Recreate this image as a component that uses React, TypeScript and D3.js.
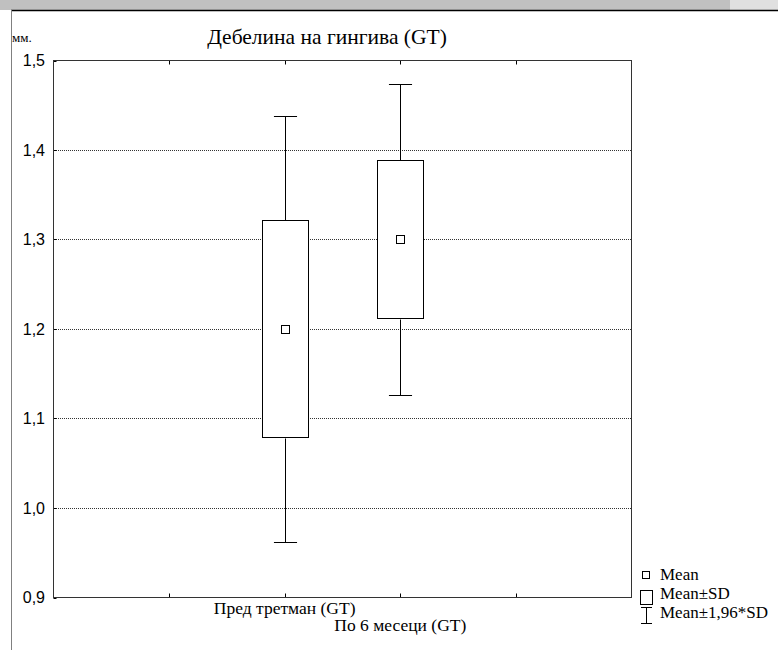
import React from "react";
import * as d3 from "d3";

const categories = ["Пред третман (GT)", "По 6 месеци (GT)"];
const catPositions = [2, 3];
const means = [1.2, 1.3];
const sds = [0.1215, 0.0885];
const sdMult = 1.96;
const yTicks = [0.9, 1.0, 1.1, 1.2, 1.3, 1.4, 1.5];
const xTicks = [1, 2, 3, 4];
const title = "Дебелина на гингива (GT)";
const yUnit = "мм.";
const legendItems = ["Mean", "Mean±SD", "Mean±1,96*SD"];

const W = 778;
const H = 650;
const serif = "'Liberation Serif', 'Times New Roman', serif";
const sans = "'Liberation Sans', Arial, sans-serif";

export default function App() {
  const left = 53.5;
  const right = 631.5;
  const top = 60.5;
  const bottom = 597.5;
  const y = d3.scaleLinear().domain([0.9, 1.5]).range([bottom, top]);
  const x = d3.scaleLinear().domain([0, 5]).range([left, right]);
  const unit = x(1) - x(0);
  const boxHalf = unit * 0.2;
  const capHalf = unit * 0.1;
  const fmt = (v: number) => d3.format(".1f")(v).replace(".", ",");
  const snap = (v: number) => Math.round(v) + 0.5;

  return (
    <div style={{ position: "absolute", left: 0, top: 0 }}>
      <svg width={W} height={H} style={{ display: "block", background: "#fff" }}>
        {/* top window band */}
        <rect x={0} y={0} width={730} height={10} fill="#c0c0c0" />
        <rect x={730} y={0} width={48} height={10} fill="#e0e0e0" />
        <line x1={11} x2={W} y1={10.5} y2={10.5} stroke="#000" strokeWidth={1.5} />
        <line x1={11.5} x2={11.5} y1={10} y2={H} stroke="#808080" strokeWidth={1} />

        {/* title and unit */}
        <text x={327} y={44} textAnchor="middle" fontFamily={serif} fontSize={21.5} fill="#000">
          {title}
        </text>
        <text x={12} y={42} fontFamily={serif} fontSize={13} fill="#000">
          {yUnit}
        </text>

        {/* gridlines */}
        {yTicks
          .filter((t) => t > 0.95 && t < 1.45)
          .map((t) => (
            <line
              key={"g" + t}
              x1={Math.round(left)}
              x2={Math.round(right)}
              y1={snap(y(t))}
              y2={snap(y(t))}
              stroke="#333"
              strokeWidth={1}
              strokeDasharray="1 1"
              shapeRendering="crispEdges"
            />
          ))}

        {/* y tick labels and ticks */}
        {yTicks.map((t) => (
          <g key={"y" + t}>
            <text
              x={45}
              y={y(t)}
              dy="0.35em"
              textAnchor="end"
              fontFamily={sans}
              fontSize={16}
              fill="#000"
            >
              {fmt(t)}
            </text>
            <line x1={left} x2={left + 3} y1={snap(y(t))} y2={snap(y(t))} stroke="#000" />
          </g>
        ))}

        {/* x ticks top & bottom */}
        {xTicks.map((t) => (
          <g key={"x" + t}>
            <line x1={snap(x(t))} x2={snap(x(t))} y1={top} y2={top + 4} stroke="#000" />
            <line x1={snap(x(t))} x2={snap(x(t))} y1={bottom} y2={bottom - 4} stroke="#000" />
          </g>
        ))}

        {/* boxes */}
        {categories.map((c, i) => {
          const cx = snap(x(catPositions[i]));
          const m = means[i];
          const sd = sds[i];
          const bTop = y(m + sd);
          const bBot = y(m - sd);
          const wTop = y(m + sdMult * sd);
          const wBot = y(m - sdMult * sd);
          return (
            <g key={c}>
              <line x1={cx} x2={cx} y1={snap(wTop)} y2={snap(bTop)} stroke="#000" />
              <line x1={cx} x2={cx} y1={snap(bBot)} y2={snap(wBot)} stroke="#000" />
              <line x1={cx - capHalf} x2={cx + capHalf} y1={snap(wTop)} y2={snap(wTop)} stroke="#000" />
              <line x1={cx - capHalf} x2={cx + capHalf} y1={snap(wBot)} y2={snap(wBot)} stroke="#000" />
              <rect
                x={Math.round(cx - boxHalf) + 0.5}
                y={snap(bTop)}
                width={Math.round(boxHalf * 2)}
                height={Math.round(bBot - bTop)}
                fill="#fff"
                stroke="#000"
              />
              <rect
                x={cx - 4}
                y={Math.round(y(m)) - 3.5}
                width={8}
                height={8}
                fill="#fff"
                stroke="#000"
              />
            </g>
          );
        })}

        {/* frame */}
        <rect
          x={left}
          y={top}
          width={right - left}
          height={bottom - top}
          fill="none"
          stroke="#333"
          strokeWidth={1}
        />

        {/* x labels */}
        {categories.map((c, i) => (
          <text
            key={"l" + c}
            x={x(catPositions[i])}
            y={614 + i * 17}
            textAnchor="middle"
            fontFamily={serif}
            fontSize={17.5}
            fill="#000"
          >
            {c}
          </text>
        ))}

        {/* legend */}
        <g>
          <rect x={642.5} y={571.5} width={7} height={7} fill="#fff" stroke="#000" />
          <rect x={640.5} y={590.5} width={12} height={14} fill="#fff" stroke="#000" />
          <line x1={646.5} x2={646.5} y1={607.5} y2={623.5} stroke="#000" />
          <line x1={641} x2={652} y1={607.5} y2={607.5} stroke="#000" />
          <line x1={641} x2={652} y1={623.5} y2={623.5} stroke="#000" />
          {legendItems.map((t, i) => (
            <text
              key={t}
              x={660}
              y={580 + i * 19}
              fontFamily={serif}
              fontSize={17}
              fill="#000"
            >
              {t}
            </text>
          ))}
        </g>
      </svg>
    </div>
  );
}
